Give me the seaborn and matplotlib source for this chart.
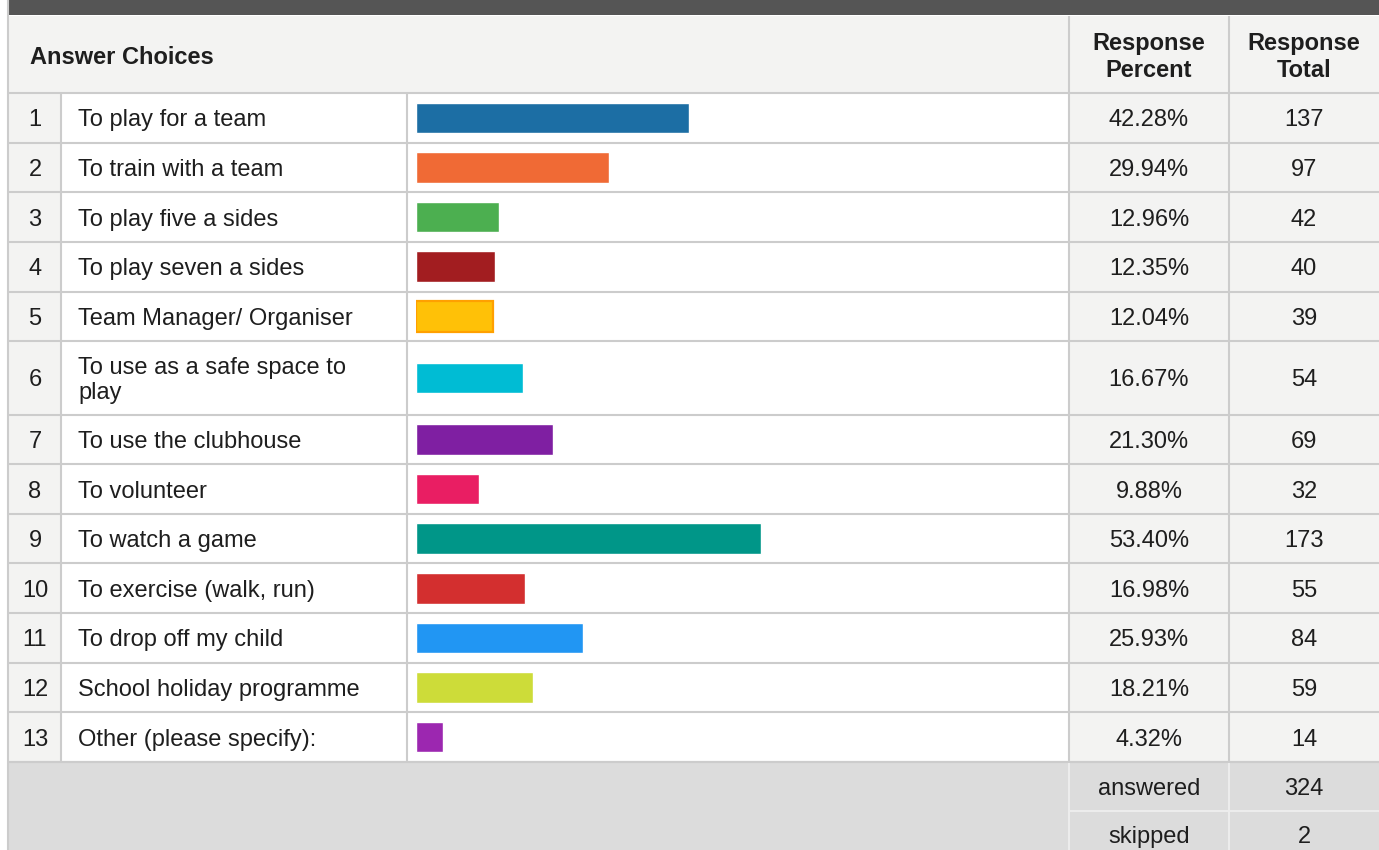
import textwrap
import matplotlib
matplotlib.use("Agg")
import matplotlib.pyplot as plt
from matplotlib.patches import Rectangle
import seaborn as sns
import pandas as pd

# ---------------- data ----------------
choices = [
    "To play for a team",
    "To train with a team",
    "To play five a sides",
    "To play seven a sides",
    "Team Manager/ Organiser",
    "To use as a safe space to play",
    "To use the clubhouse",
    "To volunteer",
    "To watch a game",
    "To exercise (walk, run)",
    "To drop off my child",
    "School holiday programme",
    "Other (please specify):",
]
percents = [42.28, 29.94, 12.96, 12.35, 12.04, 16.67, 21.30, 9.88, 53.40, 16.98, 25.93, 18.21, 4.32]
totals = [137, 97, 42, 40, 39, 54, 69, 32, 173, 55, 84, 59, 14]
bar_colors = ["#1c6ea4", "#f06a35", "#4caf50", "#a21d20", "#ffc107", "#00bcd4", "#7f1fa2",
              "#e91e63", "#009688", "#d32f2f", "#2196f3", "#cddc39", "#9c27b0"]
bar_edges = [None, None, None, None, "#ffa000", None, None, None, None, None, None, None, None]
answered = 324
skipped = 2
header_choice = "Answer Choices"
header_percent = "Response\nPercent"
header_total = "Response\nTotal"
footer_labels = ["answered", "skipped"]
footer_values = [answered, skipped]

# ---------------- style ----------------
sns.set_theme(style="white")
plt.rcParams['font.family'] = ['Liberation Sans', 'DejaVu Sans']

W, H = 1379, 850
FS = 17
TXT = "#1e1e1e"
LIGHT = "#f3f3f2"
GRID = "#cccccc"
FOOT = "#dcdcdc"
FOOT_LINE = "#ececec"
DY = 2.5          # visual centring offset for text
LS = 1.18         # line spacing for wrapped text

L, C_NUM, C_TXT, C_BAR, C_PCT, R = 9, 61, 407, 1069, 1229, W
BAR_X0, BAR_X1 = 416, 1063
HEAD_TOP, HEAD_BOT = 16, 93
TABLE_BOT = 762
FOOT_ROW = 49

fig = plt.figure(figsize=(W / 100, H / 100), dpi=100)
fig.patch.set_facecolor("white")
bg = fig.add_axes([0, 0, 1, 1])
bg.set_xlim(0, W)
bg.set_ylim(H, 0)
bg.axis("off")


def rect(x0, y0, x1, y1, color, z=1):
    bg.add_patch(Rectangle((x0, y0), x1 - x0, y1 - y0, facecolor=color, edgecolor="none", zorder=z))


def hline(y, x0, x1, color=GRID, lw=1.5):
    bg.plot([x0, x1], [y, y], color=color, lw=lw, zorder=3, solid_capstyle="butt")


def vline(x, y0, y1, color=GRID, lw=1.5):
    bg.plot([x, x], [y0, y1], color=color, lw=lw, zorder=3, solid_capstyle="butt")


def txt(x, y, s, ha="center", bold=False):
    bg.text(x, y + DY, s, fontsize=FS, color=TXT, ha=ha, va="center",
            fontweight="bold" if bold else "normal", linespacing=LS, multialignment=ha)


# top dark band and left border
rect(L, 0, R, 15, "#555555")
vline(8, 0, H)

# header
rect(L, HEAD_TOP, R, HEAD_BOT, LIGHT)
vline(C_BAR, HEAD_TOP, HEAD_BOT)
vline(C_PCT, HEAD_TOP, HEAD_BOT)
hline(HEAD_BOT, L, R)
hc = (HEAD_TOP + HEAD_BOT) / 2
txt(30, hc, header_choice, ha="left", bold=True)
txt((C_BAR + C_PCT) / 2, hc, header_percent, bold=True)
txt((C_PCT + R) / 2, hc, header_total, bold=True)

# rows
wrapped = [textwrap.wrap(c, 25) for c in choices]
units = [1 + 0.48 * (len(w) - 1) for w in wrapped]
base = (TABLE_BOT - HEAD_BOT) / sum(units)

y0 = HEAD_BOT
for i, (lines, p, t, col) in enumerate(zip(wrapped, percents, totals, bar_colors)):
    h = base * units[i]
    y1 = y0 + h
    yc = (y0 + y1) / 2
    rect(L, y0, C_NUM, y1, LIGHT)
    rect(C_NUM, y0, C_BAR, y1, "white")
    rect(C_BAR, y0, R, y1, LIGHT)
    hline(y1, L, R)
    for x in (C_NUM, C_TXT, C_BAR, C_PCT):
        vline(x, y0, y1)
    txt((L + C_NUM) / 2, yc, str(i + 1))
    txt(78, yc, "\n".join(lines), ha="left")
    txt((C_BAR + C_PCT) / 2, yc, f"{p:.2f}%")
    txt((C_PCT + R) / 2, yc, str(t))

    ax = fig.add_axes([(BAR_X0 - 0.5) / W, 1 - y1 / H, (BAR_X1 - BAR_X0) / W, h / H])
    df = pd.DataFrame({"choice": [choices[i]], "percent": [p]})
    kw = {}
    if bar_edges[i]:
        kw = dict(edgecolor=bar_edges[i], linewidth=1.6)
    sns.barplot(data=df, x="percent", y="choice", orient="h", color=col, saturation=1,
                width=30.5 / h, ax=ax, **kw)
    ax.set_xlim(0, 100)
    ax.set_ylim(0.5, -0.5)
    ax.axis("off")
    ax.patch.set_alpha(0)
    y0 = y1

# footer
rect(L, TABLE_BOT, R, H, FOOT)
hline(TABLE_BOT, L, R)
vline(C_BAR, TABLE_BOT + 1, H, color=FOOT_LINE)
vline(C_PCT, TABLE_BOT + 1, H, color=FOOT_LINE)
hline(TABLE_BOT + FOOT_ROW, C_BAR, R, color=FOOT_LINE)
for k, (lab, val) in enumerate(zip(footer_labels, footer_values)):
    yc = TABLE_BOT + FOOT_ROW * k + FOOT_ROW / 2 + (0 if k == 0 else -1)
    txt((C_BAR + C_PCT) / 2, yc, lab)
    txt((C_PCT + R) / 2, yc, str(val))

fig.savefig("out.png", dpi=100, facecolor="white")
